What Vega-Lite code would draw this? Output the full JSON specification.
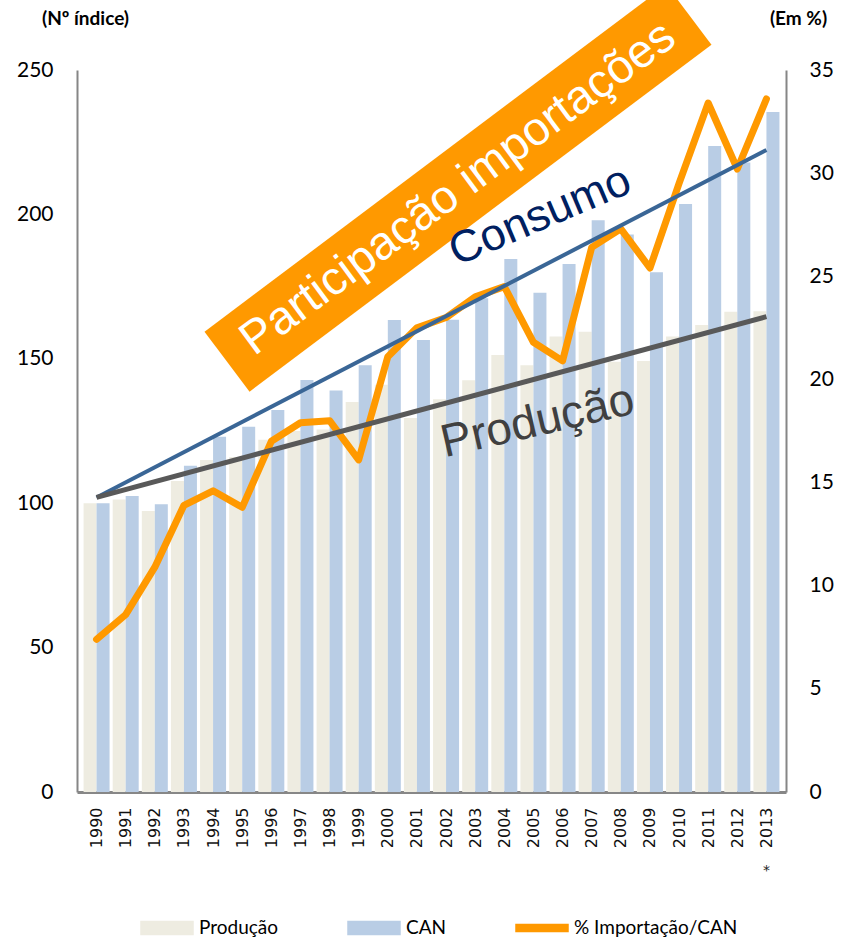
{
  "$schema": "https://vega.github.io/schema/vega-lite/v6.json",
  "width": 709,
  "height": 722,
  "autosize": {"type": "none"},
  "padding": {"left": 77, "top": 70, "right": 57, "bottom": 147},
  "background": "white",
  "config": {"view": {"stroke": null}, "font": "Lato"},
  "datasets": {
    "main": [
      {"year": 1990, "prod": 100, "can": 100, "imp": 7.4},
      {"year": 1991, "prod": 101.3, "can": 102.5, "imp": 8.6},
      {"year": 1992, "prod": 97.3, "can": 99.6, "imp": 10.9},
      {"year": 1993, "prod": 107.7, "can": 113, "imp": 13.9},
      {"year": 1994, "prod": 115, "can": 123, "imp": 14.6},
      {"year": 1995, "prod": 116, "can": 126.5, "imp": 13.8},
      {"year": 1996, "prod": 122, "can": 132.3, "imp": 17.0},
      {"year": 1997, "prod": 125, "can": 142.7, "imp": 17.9},
      {"year": 1998, "prod": 125.5, "can": 139, "imp": 18.0},
      {"year": 1999, "prod": 135, "can": 147.8, "imp": 16.1},
      {"year": 2000, "prod": 141, "can": 163.4, "imp": 21.1},
      {"year": 2001, "prod": 129.5, "can": 156.5, "imp": 22.5},
      {"year": 2002, "prod": 136, "can": 163.5, "imp": 23.0},
      {"year": 2003, "prod": 142.6, "can": 171, "imp": 24.0},
      {"year": 2004, "prod": 151.3, "can": 184.6, "imp": 24.5},
      {"year": 2005, "prod": 147.8, "can": 172.9, "imp": 21.8},
      {"year": 2006, "prod": 157.7, "can": 182.8, "imp": 20.9},
      {"year": 2007, "prod": 159.4, "can": 198, "imp": 26.4},
      {"year": 2008, "prod": 149, "can": 193, "imp": 27.3},
      {"year": 2009, "prod": 149.2, "can": 180, "imp": 25.4},
      {"year": 2010, "prod": 157.7, "can": 203.6, "imp": 29.5},
      {"year": 2011, "prod": 161.7, "can": 223.7, "imp": 33.4},
      {"year": 2012, "prod": 166.3, "can": 218, "imp": 30.2},
      {"year": 2013, "prod": 166.5, "can": 235.5, "imp": 33.6}
    ],
    "trendC": [
      {"year": 1990, "value": 102},
      {"year": 2013, "value": 222.3}
    ],
    "trendP": [
      {"year": 1990, "value": 102},
      {"year": 2013, "value": 164.6}
    ],
    "box": [
      {"year": 1994.48, "value": 149.0},
      {"year": 2010.34, "value": 269.1}
    ],
    "boxText": [{"year": 2002.41, "value": 209.0, "label": "Participação importações"}],
    "consText": [{"year": 2005.22, "value": 199.5, "label": "Consumo"}],
    "prodText": [{"year": 2005.14, "value": 128.3, "label": "Produção"}],
    "note": [{"year": 2013, "value": -27.5, "label": "*"}]
  },
  "encoding": {
    "x": {
      "field": "year",
      "type": "quantitative",
      "scale": {"domain": [1989.5, 2013.5], "nice": false, "zero": false},
      "axis": {
        "values": [1990, 1991, 1992, 1993, 1994, 1995, 1996, 1997, 1998, 1999, 2000, 2001, 2002, 2003, 2004, 2005, 2006, 2007, 2008, 2009, 2010, 2011, 2012, 2013],
        "format": "d",
        "labelAngle": -90,
        "labelFont": "DejaVu Sans",
        "labelFontSize": 16,
        "labelColor": "#111111",
        "labelPadding": 15,
        "labelFlush": false,
        "labelOverlap": false,
        "ticks": false,
        "grid": false,
        "domainColor": "#878787",
        "domainWidth": 3,
        "title": null
      }
    }
  },
  "layer": [
    {
      "layer": [
        {
          "data": {"name": "main"},
          "mark": {"type": "bar", "width": 13, "xOffset": -6.5},
          "encoding": {
            "y": {
              "field": "prod",
              "type": "quantitative",
              "scale": {"domain": [0, 250], "nice": false},
              "axis": {
                "values": [0, 50, 100, 150, 200, 250],
                "ticks": false,
                "grid": false,
                "domainColor": "#868686",
                "domainWidth": 2,
                "labelFont": "Lato",
                "labelFontSize": 21,
                "labelColor": "#000000",
                "labelPadding": 24,
                "title": "(Nº índice)",
                "titleAngle": 0,
                "titleX": 8,
                "titleY": -52,
                "titleAlign": "center",
                "titleBaseline": "middle",
                "titleFont": "Lato",
                "titleFontSize": 19,
                "titleFontWeight": "bold",
                "titleColor": "#000000"
              }
            },
            "color": {
              "datum": "Produção",
              "scale": {
                "domain": ["Produção", "CAN", "% Importação/CAN"],
                "range": ["#EEECE1", "#B9CDE5", "#FF9900"]
              },
              "legend": {
                "orient": "none",
                "legendX": 63,
                "legendY": 831,
                "direction": "horizontal",
                "columns": 3,
                "columnPadding": 66,
                "padding": 0,
                "title": null,
                "labelFont": "Lato",
                "labelFontSize": 19,
                "labelColor": "#000000",
                "labelOffset": 5,
                "labelLimit": 400,
                "symbolSize": 2704,
                "symbolType": "square",
                "encode": {
                  "symbols": {
                    "update": {
                      "shape": {"signal": "datum.value === '% Importação/CAN' ? 'M-1,-0.13L1,-0.13L1,0.13L-1,0.13Z' : 'M-1,-0.25L1,-0.25L1,0.25L-1,0.25Z'"},
                      "fill": {"scale": "color", "field": "value"},
                      "stroke": {"value": "transparent"},
                      "opacity": {"value": 1}
                    }
                  }
                }
              }
            }
          }
        },
        {
          "data": {"name": "main"},
          "mark": {"type": "bar", "width": 13, "xOffset": 6.5},
          "encoding": {
            "y": {"field": "can", "type": "quantitative", "scale": {"domain": [0, 250], "nice": false}},
            "color": {"datum": "CAN"}
          }
        }
      ]
    },
    {
      "data": {"name": "main"},
      "mark": {"type": "line", "strokeWidth": 7, "strokeCap": "round", "strokeJoin": "round"},
      "encoding": {
        "y": {
          "field": "imp",
          "type": "quantitative",
          "scale": {"domain": [0, 35], "nice": false},
          "axis": {
            "orient": "right",
            "values": [0, 5, 10, 15, 20, 25, 30, 35],
            "ticks": false,
            "grid": false,
            "domainColor": "#868686",
            "domainWidth": 2,
            "labelFont": "Lato",
            "labelFontSize": 21,
            "labelColor": "#000000",
            "labelPadding": 23,
            "title": "(Em %)",
            "titleAngle": 0,
            "titleX": 12,
            "titleY": -52,
            "titleAlign": "center",
            "titleBaseline": "middle",
            "titleFont": "Lato",
            "titleFontSize": 19,
            "titleFontWeight": "bold",
            "titleColor": "#000000"
          }
        },
        "color": {"datum": "% Importação/CAN"}
      }
    },
    {
      "layer": [
        {
          "data": {"name": "trendC"},
          "mark": {"type": "line", "strokeWidth": 4, "color": "#3A6696", "strokeCap": "butt"},
          "encoding": {
            "y": {"field": "value", "type": "quantitative", "scale": {"domain": [0, 250], "nice": false}, "axis": null}
          }
        },
        {
          "data": {"name": "trendP"},
          "mark": {"type": "line", "strokeWidth": 5, "color": "#595959", "strokeCap": "butt"},
          "encoding": {
            "y": {"field": "value", "type": "quantitative", "scale": {"domain": [0, 250], "nice": false}, "axis": null}
          }
        },
        {
          "data": {"name": "box"},
          "mark": {"type": "line", "strokeWidth": 75, "color": "#FF9900", "strokeCap": "butt"},
          "encoding": {
            "y": {"field": "value", "type": "quantitative", "scale": {"domain": [0, 250], "nice": false}, "axis": null}
          }
        },
        {
          "data": {"name": "boxText"},
          "mark": {"type": "text", "font": "Liberation Sans", "fontSize": 47, "color": "#FFFFFF", "angle": -36.5, "align": "center", "baseline": "middle"},
          "encoding": {
            "y": {"field": "value", "type": "quantitative", "scale": {"domain": [0, 250], "nice": false}, "axis": null},
            "text": {"field": "label"}
          }
        },
        {
          "data": {"name": "consText"},
          "mark": {"type": "text", "font": "Liberation Sans", "fontSize": 45, "color": "#002060", "angle": -23, "align": "center", "baseline": "middle"},
          "encoding": {
            "y": {"field": "value", "type": "quantitative", "scale": {"domain": [0, 250], "nice": false}, "axis": null},
            "text": {"field": "label"}
          }
        },
        {
          "data": {"name": "prodText"},
          "mark": {"type": "text", "font": "Liberation Sans", "fontSize": 46, "color": "#404040", "angle": -13, "align": "center", "baseline": "middle"},
          "encoding": {
            "y": {"field": "value", "type": "quantitative", "scale": {"domain": [0, 250], "nice": false}, "axis": null},
            "text": {"field": "label"}
          }
        },
        {
          "data": {"name": "note"},
          "mark": {"type": "text", "font": "DejaVu Sans", "fontSize": 14, "color": "#222222", "align": "center", "baseline": "middle"},
          "encoding": {
            "y": {"field": "value", "type": "quantitative", "scale": {"domain": [0, 250], "nice": false}, "axis": null},
            "text": {"field": "label"}
          }
        }
      ]
    }
  ],
  "resolve": {"scale": {"y": "independent"}}
}
